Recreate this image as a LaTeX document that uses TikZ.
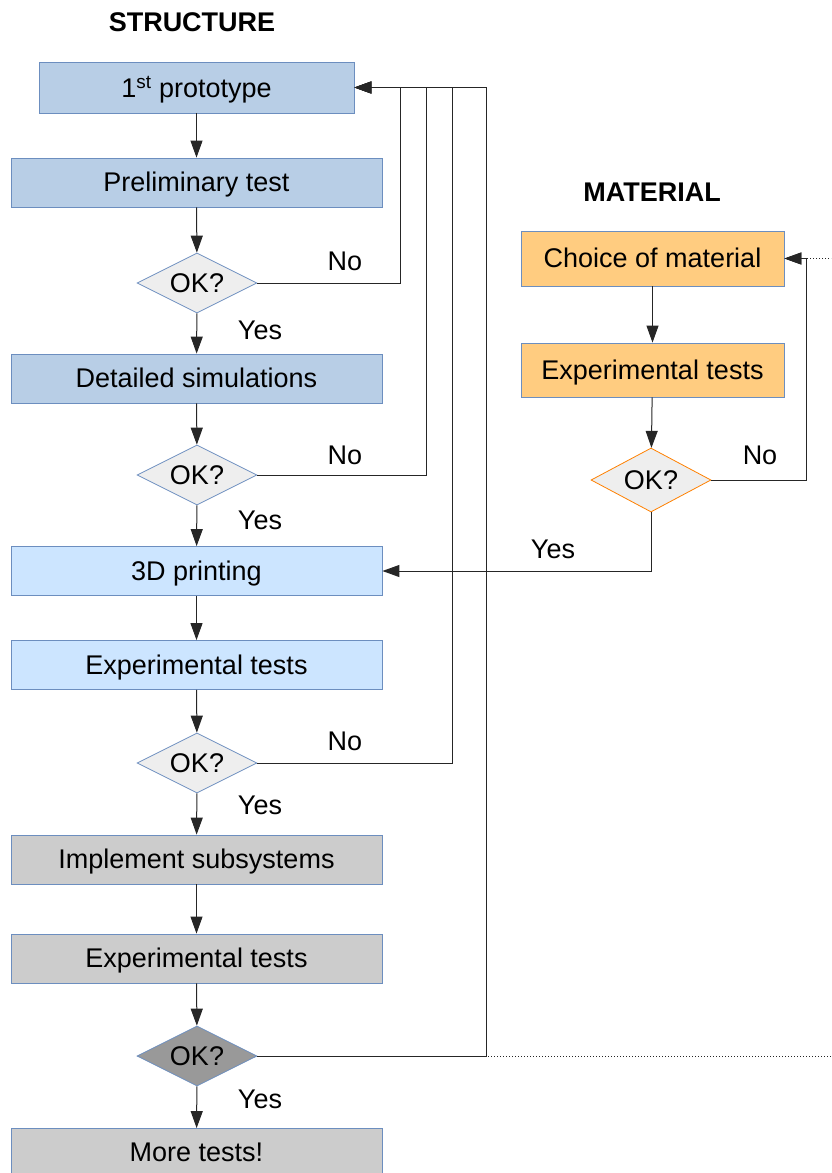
\documentclass[tikz,border=0pt]{standalone}
\usepackage{fontspec}
\setmainfont{Liberation Sans}
\usetikzlibrary{shapes.geometric,arrows.meta,positioning}

\definecolor{protoblue}{HTML}{B8CEE6}
\definecolor{printblue}{HTML}{CCE5FF}
\definecolor{edgeblue}{HTML}{6C8EBF}
\definecolor{subgray}{HTML}{CCCCCC}
\definecolor{darkgray}{HTML}{999999}
\definecolor{okfill}{HTML}{EEEEEE}
\definecolor{matorange}{HTML}{FFCC80}
\definecolor{edgeorange}{HTML}{FF8000}

\begin{document}
\begin{tikzpicture}[x=1pt,y=-1pt,
    font=\fontsize{27}{32}\selectfont,
    box/.style={rectangle, draw=edgeblue, line width=0.8pt, minimum width=371pt, minimum height=49pt, inner sep=0pt, text depth=1pt},
    okdiamond/.style={diamond, aspect=2, draw=edgeblue, fill=okfill, line width=0.8pt, minimum width=120pt, minimum height=60pt, inner sep=0pt},
    heading/.style={font=\fontsize{27}{32}\selectfont\bfseries},
    flow/.style={draw=black!85, line width=1pt, -{Triangle[length=17pt,width=12pt]}},
    plain/.style={draw=black!85, line width=1pt}]
  \clip (0,0) rectangle (831,1173);

  % structure column
  \node(structure) [heading] at (192,22) {STRUCTURE};
  \node(proto) [box, fill=protoblue, minimum width=315pt, minimum height=51pt] at (196.5,87.5) {1\textsuperscript{st} prototype};
  \node(prelim) [box, fill=protoblue] at (196.5,182.5) {Preliminary test};
  \node(ok1) [okdiamond] at (197,283) {OK?};
  \node(sim) [box, fill=protoblue] at (196.5,378.5) {Detailed simulations};
  \node(ok2) [okdiamond] at (197,475) {OK?};
  \node(print) [box, fill=printblue] at (196.5,571) {3D printing};
  \node(exp1) [box, fill=printblue] at (196.5,665) {Experimental tests};
  \node(ok3) [okdiamond] at (197,763) {OK?};
  \node(impl) [box, fill=subgray] at (196.5,859.5) {Implement subsystems};
  \node(exp2) [box, fill=subgray] at (196.5,958.5) {Experimental tests};
  \node(ok4) [okdiamond, fill=darkgray] at (197,1056) {OK?};
  \node(more) [box, fill=subgray] at (196.5,1153) {More tests!};

  % material column
  \node(material) [heading] at (652,192) {MATERIAL};
  \node(choice) [box, fill=matorange, minimum width=263pt, minimum height=55pt] at (652.5,258.5) {Choice of material};
  \node(oexp) [box, fill=matorange, minimum width=263pt, minimum height=54pt] at (652.5,370) {Experimental tests};
  \node(ok5) [okdiamond, draw=edgeorange, minimum height=64pt] at (651,480) {OK?};

  % loop corners
  \coordinate(back1) at (400,87.5);
  \coordinate(back2) at (426,87.5);
  \coordinate(back3) at (452,87.5);
  \coordinate(back4) at (486,87.5);
  \coordinate(back5) at (806,258.5);
  \coordinate(far) at (860,1056);

  % labels
  \node(no1) at (345,261) {No};
  \node(no2) at (345,455) {No};
  \node(no3) at (345,741) {No};
  \node(no5) at (760,455) {No};
  \node(yes1) at (260,330) {Yes};
  \node(yes2) at (260,520) {Yes};
  \node(yes3) at (260,805) {Yes};
  \node(yes4) at (260,1099) {Yes};
  \node(yes5) at (553,549) {Yes};

  % main flow
  \draw[flow] (proto) -- (prelim);
  \draw[flow] (prelim) -- (ok1);
  \draw[flow] (ok1) -- (sim);
  \draw[flow] (sim) -- (ok2);
  \draw[flow] (ok2) -- (print);
  \draw[flow] (print) -- (exp1);
  \draw[flow] (exp1) -- (ok3);
  \draw[flow] (ok3) -- (impl);
  \draw[flow] (impl) -- (exp2);
  \draw[flow] (exp2) -- (ok4);
  \draw[flow] (ok4) -- (more);

  % back to the prototype
  \draw[flow, dotted] (ok4.east) -- (far) |- (choice.east);
  \draw[flow] (ok1.east) -| (back1) -- (proto.east);
  \draw[flow] (ok2.east) -| (back2) -- (proto.east);
  \draw[flow] (ok3.east) -| (back3) -- (proto.east);
  \draw[flow] (ok4.east) -| (back4) -- (proto.east);

  % material flow
  \draw[flow] (choice) -- (oexp);
  \draw[flow] (oexp) -- (ok5);
  \draw[flow] (ok5.east) -| (back5) -- (choice.east);
  \draw[flow] (ok5.south) |- (print.east);
\end{tikzpicture}
\end{document}
